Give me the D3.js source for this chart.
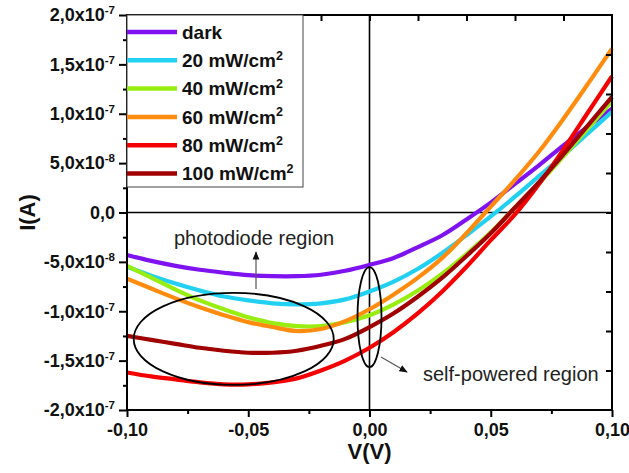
<!DOCTYPE html>
<html>
<head>
<meta charset="utf-8">
<title>I-V curves</title>
<script src="https://d3js.org/d3.v7.min.js"></script>
<style>
  body {margin: 0; background: #fff;}
  svg {font-family: "Liberation Sans", Arial, sans-serif;}
</style>
</head>
<body>
<script>
// bias voltage (V)
var voltage = [-0.10, -0.09, -0.08, -0.07, -0.06, -0.05, -0.04, -0.03, -0.02, -0.01,
               0.00, 0.01, 0.02, 0.03, 0.04, 0.05, 0.06, 0.07, 0.08, 0.09, 0.10];

// current, in units of 1e-8 A
var dark   = [-4.3, -4.9, -5.4, -5.8, -6.1, -6.35, -6.45, -6.45, -6.3, -5.9,
              -5.3, -4.6, -3.5, -2.3, -0.7, 1.0, 2.9, 4.8, 6.8, 8.7, 10.5];
var p20    = [-5.5, -6.4, -7.2, -7.9, -8.5, -8.9, -9.2, -9.3, -9.2, -8.8,
              -8.0, -7.0, -5.7, -4.1, -2.3, -0.4, 1.6, 3.7, 5.8, 8.0, 10.2];
var p40    = [-5.4, -6.6, -7.8, -8.9, -9.8, -10.6, -11.2, -11.5, -11.5, -11.1,
              -10.4, -9.3, -7.9, -6.2, -4.2, -2.0, 0.5, 3.0, 5.7, 8.5, 11.3];
var p60    = [-6.7, -7.7, -8.7, -9.6, -10.4, -11.1, -11.6, -12.0, -11.8, -11.0,
              -9.8, -8.3, -6.6, -4.6, -2.1, 0.6, 3.3, 6.2, 9.5, 13.0, 16.6];
var p80    = [-16.2, -16.6, -16.9, -17.2, -17.4, -17.4, -17.2, -16.8, -16.0, -15.0,
              -13.7, -12.1, -10.2, -8.0, -5.5, -2.8, -0.2, 2.9, 6.4, 10.1, 13.8];
var p100   = [-12.5, -12.9, -13.3, -13.7, -14.0, -14.2, -14.2, -14.0, -13.5, -12.8,
              -11.6, -10.2, -8.5, -6.6, -4.4, -2.1, 0.5, 3.1, 5.9, 8.8, 11.7];

var seriesNames  = ["dark", "20 mW/cm^2", "40 mW/cm^2", "60 mW/cm^2", "80 mW/cm^2", "100 mW/cm^2"];
var seriesValues = [dark, p20, p40, p60, p80, p100];
var seriesColors = ["#7f12f0", "#22d0f2", "#99ee11", "#ff8c0f", "#f50000", "#a00000"];

// tick values and labels
var xMajor = [-0.10, -0.05, 0.00, 0.05, 0.10];
var xMinor = [-0.075, -0.025, 0.025, 0.075];
var xLabels = ["-0,10", "-0,05", "0,00", "0,05", "0,10"];
var xTop = [-0.08, -0.06, -0.04, -0.02, 0.00, 0.02, 0.04, 0.06, 0.08];
var yMajor = [-20, -15, -10, -5, 0, 5, 10, 15, 20];
var yMinor = [-17.5, -12.5, -7.5, -2.5, 2.5, 7.5, 12.5, 17.5];
var yLabels = ["-2,0x10^-7", "-1,5x10^-7", "-1,0x10^-7", "-5,0x10^-8", "0,0",
               "5,0x10^-8", "1,0x10^-7", "1,5x10^-7", "2,0x10^-7"];
var yRight = [-16, -12, -8, -4, 0, 4, 8, 12, 16];

var width = 629, height = 473;
var margin = {left: 127, right: 17, top: 15, bottom: 63};

var svg = d3.select("body").append("svg")
    .attr("width", width)
    .attr("height", height);

var x = d3.scaleLinear().domain([-0.1, 0.1]).range([margin.left, width - margin.right]);
var y = d3.scaleLinear().domain([-20, 20]).range([height - margin.bottom, margin.top]);

// write "a^b" as text with a superscript
function writeSup(sel, str, supSize, rise) {
  var parts = str.split("^");
  sel.text(null);
  sel.append("tspan").text(parts[0]);
  if (parts.length > 1) {
    sel.append("tspan").attr("font-size", supSize).attr("dy", -rise).text(parts[1]);
  }
}

// zero lines
svg.append("line")
    .attr("x1", x(-0.1)).attr("x2", x(0.1))
    .attr("y1", y(0)).attr("y2", y(0))
    .attr("stroke", "#000").attr("stroke-width", 1.6);
svg.append("line")
    .attr("x1", x(0)).attr("x2", x(0))
    .attr("y1", y(20)).attr("y2", y(-20))
    .attr("stroke", "#000").attr("stroke-width", 1.6);

// curves
var line = d3.line()
    .x(function(d, i) { return x(voltage[i]); })
    .y(function(d) { return y(d); })
    .curve(d3.curveCatmullRom);

svg.selectAll(".curve")
    .data(seriesValues)
    .enter()
    .append("path")
    .attr("class", "curve")
    .attr("d", line)
    .attr("fill", "none")
    .attr("stroke", function(d, i) { return seriesColors[i]; })
    .attr("stroke-width", 4.2);

// axes
function styleAxis(g) {
  g.select(".domain").remove();
  g.selectAll("line").attr("stroke", "#000").attr("stroke-width", 2);
  g.selectAll("text")
      .attr("font-family", "Liberation Sans, Arial, sans-serif")
      .attr("font-size", 18)
      .attr("font-weight", "bold")
      .attr("fill", "#111");
}

svg.append("g")
    .attr("transform", "translate(0," + y(-20) + ")")
    .call(d3.axisBottom(x).tickValues(xMajor).tickSize(7).tickPadding(6)
      .tickFormat(function(d, i) { return xLabels[i]; }))
    .call(styleAxis);
svg.append("g")
    .attr("transform", "translate(0," + y(-20) + ")")
    .call(d3.axisBottom(x).tickValues(xMinor).tickSize(4).tickFormat(""))
    .call(styleAxis);

var yl = svg.append("g")
    .attr("transform", "translate(" + x(-0.1) + ",0)")
    .call(d3.axisLeft(y).tickValues(yMajor).tickSize(8).tickPadding(4)
      .tickFormat(function(d, i) { return yLabels[i]; }))
    .call(styleAxis);
yl.selectAll("text").each(function() {
  var t = d3.select(this);
  writeSup(t, t.text(), 11.5, 7);
});
svg.append("g")
    .attr("transform", "translate(" + x(-0.1) + ",0)")
    .call(d3.axisLeft(y).tickValues(yMinor).tickSize(4).tickFormat(""))
    .call(styleAxis);

// top and right: inner ticks only
svg.append("g")
    .attr("transform", "translate(0," + y(20) + ")")
    .call(d3.axisBottom(x).tickValues(xTop).tickSize(6).tickFormat(""))
    .call(styleAxis);
svg.append("g")
    .attr("transform", "translate(" + x(0.1) + ",0)")
    .call(d3.axisLeft(y).tickValues(yRight).tickSize(6).tickFormat(""))
    .call(styleAxis);

// frame
svg.append("rect")
    .attr("x", x(-0.1)).attr("y", y(20))
    .attr("width", x(0.1) - x(-0.1)).attr("height", y(-20) - y(20))
    .attr("fill", "none").attr("stroke", "#000").attr("stroke-width", 2);

// axis titles
svg.append("text")
    .attr("x", x(0)).attr("y", 459)
    .attr("text-anchor", "middle")
    .attr("font-size", 22).attr("font-weight", "bold").attr("fill", "#111")
    .text("V(V)");
svg.append("text")
    .attr("transform", "translate(35," + y(0) + ") rotate(-90)")
    .attr("text-anchor", "middle")
    .attr("font-size", 22).attr("font-weight", "bold").attr("fill", "#111")
    .text("I(A)");

// legend
var legend = svg.append("g");
legend.append("rect")
    .attr("x", x(-0.1)).attr("y", y(20))
    .attr("width", 176).attr("height", 172)
    .attr("fill", "#fff").attr("stroke", "#444").attr("stroke-width", 1);
var rows = legend.selectAll(".row")
    .data(seriesNames)
    .enter()
    .append("g")
    .attr("transform", function(d, i) { return "translate(" + x(-0.1) + "," + (32 + i * 28.3) + ")"; });
rows.append("line")
    .attr("x1", 0).attr("x2", 50)
    .attr("stroke", function(d, i) { return seriesColors[i]; })
    .attr("stroke-width", 4.5);
rows.append("text")
    .attr("x", 55).attr("dy", "0.36em")
    .attr("font-size", 19).attr("font-weight", "bold").attr("fill", "#111")
    .each(function(d) { writeSup(d3.select(this), d, 12.5, 7.5); });

// annotations
svg.append("defs").append("marker")
    .attr("id", "arrow")
    .attr("viewBox", "0 0 10 10")
    .attr("refX", 9).attr("refY", 5)
    .attr("markerWidth", 7).attr("markerHeight", 7)
    .attr("orient", "auto")
    .append("path").attr("d", "M0,1 L10,5 L0,9 Z").attr("fill", "#111");

svg.append("ellipse")
    .attr("cx", x(-0.056)).attr("cy", y(-12.8))
    .attr("rx", 100).attr("ry", 46)
    .attr("fill", "none").attr("stroke", "#000").attr("stroke-width", 1.8);
svg.append("ellipse")
    .attr("cx", x(0)).attr("cy", y(-10.6))
    .attr("rx", 12).attr("ry", 50)
    .attr("fill", "none").attr("stroke", "#000").attr("stroke-width", 1.8);

svg.append("line")
    .attr("x1", 256).attr("y1", 289).attr("x2", 256).attr("y2", 252)
    .attr("stroke", "#555").attr("stroke-width", 1.2)
    .attr("marker-end", "url(#arrow)");
svg.append("line")
    .attr("x1", 381).attr("y1", 357).attr("x2", 407).attr("y2", 372)
    .attr("stroke", "#555").attr("stroke-width", 1.2)
    .attr("marker-end", "url(#arrow)");

svg.append("text")
    .attr("x", 174).attr("y", 245)
    .attr("font-size", 20).attr("fill", "#222")
    .text("photodiode region");
svg.append("text")
    .attr("x", 423).attr("y", 381)
    .attr("font-size", 20).attr("fill", "#222")
    .text("self-powered region");
</script>
</body>
</html>
